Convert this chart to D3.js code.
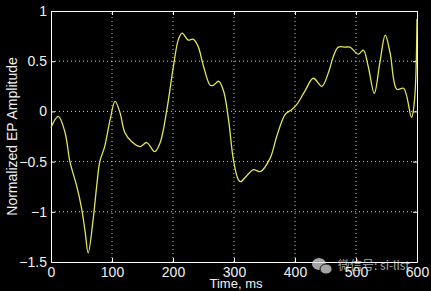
<!DOCTYPE html>
<html>
<head>
<meta charset="utf-8">
<script src="https://cdn.jsdelivr.net/npm/d3@7"></script>
<style>
body { margin: 0; background: #000; }
svg { display: block; }
</style>
</head>
<body>
<div id="chart"></div>
<script>
// EP waveform
var timeMs = [0, 12, 23, 31, 42, 50, 56, 61, 69, 75, 80, 88, 97, 105, 113, 121, 132, 146, 157, 170, 179, 190,
	200, 209, 215, 225, 233, 241, 250, 261, 266, 275, 283, 291, 299, 307, 311, 321, 332, 343, 359, 370,
	384, 395, 403, 416, 430, 444, 455, 463, 471, 482, 490, 504, 512, 520, 530, 539, 548, 556, 567, 578,
	591, 596, 600];
var amplitude = [-0.16, -0.05, -0.21, -0.5, -0.74, -0.96, -1.2, -1.41, -1.08, -0.74, -0.5, -0.35, -0.08, 0.10, -0.01, -0.21, -0.30, -0.35, -0.31, -0.40, -0.31, 0.02,
	0.42, 0.72, 0.78, 0.71, 0.72, 0.65, 0.45, 0.26, 0.26, 0.30, 0.20, -0.08, -0.48, -0.68, -0.70, -0.64, -0.58, -0.60, -0.47, -0.25,
	-0.03, 0.02, 0.07, 0.20, 0.33, 0.25, 0.39, 0.55, 0.64, 0.64, 0.64, 0.57, 0.61, 0.45, 0.18, 0.48, 0.76, 0.58, 0.22, 0.23,
	-0.06, 0.12, 0.92];
var xTicks = [0, 100, 200, 300, 400, 500, 600];
var yTicks = [-1.5, -1, -0.5, 0, 0.5, 1];

var width = 431, height = 291;
var margin = {left: 51, right: 14, top: 11, bottom: 29};
var font = '"Liberation Sans Narrow", "Liberation Sans", Arial, sans-serif';

var svg = d3.select('#chart').append('svg')
	.attr('width', width)
	.attr('height', height)
	.style('background', '#000');

var x = d3.scaleLinear().domain([0, 600]).range([margin.left, width - margin.right]);
var y = d3.scaleLinear().domain([-1.5, 1]).range([height - margin.bottom, margin.top]);

// dotted grid
svg.append('g').selectAll('line').data(xTicks.slice(1, -1)).enter().append('line')
	.attr('x1', function (d) { return x(d); })
	.attr('x2', function (d) { return x(d); })
	.attr('y1', y(-1.5)).attr('y2', y(1))
	.style('stroke', '#ccc').style('stroke-width', 1).style('stroke-dasharray', '1,3');
svg.append('g').selectAll('line').data(yTicks.slice(1, -1)).enter().append('line')
	.attr('y1', function (d) { return y(d); })
	.attr('y2', function (d) { return y(d); })
	.attr('x1', x(0)).attr('x2', x(600))
	.style('stroke', '#ccc').style('stroke-width', 1).style('stroke-dasharray', '1,3');

// axes, ticks pointing inward
var xAxis = svg.append('g')
	.attr('transform', 'translate(0,' + y(-1.5) + ')')
	.call(d3.axisBottom(x).tickValues(xTicks).tickSizeInner(-4).tickSizeOuter(0).tickPadding(7).tickFormat(d3.format('d')));
var yAxis = svg.append('g')
	.attr('transform', 'translate(' + x(0) + ',0)')
	.call(d3.axisLeft(y).tickValues(yTicks).tickSizeInner(-4).tickSizeOuter(0).tickPadding(4).tickFormat(function (d) { return String(d).replace('-', '\u2212'); }));
svg.append('g')
	.attr('transform', 'translate(0,' + y(1) + ')')
	.call(d3.axisTop(x).tickValues(xTicks).tickSizeInner(-4).tickSizeOuter(0).tickFormat(''));
svg.append('g')
	.attr('transform', 'translate(' + x(600) + ',0)')
	.call(d3.axisRight(y).tickValues(yTicks).tickSizeInner(-4).tickSizeOuter(0).tickFormat(''));

svg.selectAll('.domain, .tick line').style('stroke', '#fff').style('stroke-width', 1);
svg.selectAll('.tick text').style('fill', '#f0f0f0').style('font-family', font).style('font-size', '14px');
xAxis.selectAll('.tick text').attr('dy', '0.55em');

// the waveform
var line = d3.line()
	.x(function (d, i) { return x(timeMs[i]); })
	.y(function (d) { return y(d); })
	.curve(d3.curveCatmullRom.alpha(0.5));

svg.append('path')
	.datum(amplitude)
	.attr('d', line)
	.style('fill', 'none')
	.style('stroke', '#e4e45c')
	.style('stroke-width', 1.3);

// labels
svg.append('text')
	.attr('x', (x(0) + x(600)) / 2 + 2)
	.attr('y', 288)
	.attr('text-anchor', 'middle')
	.style('fill', '#f0f0f0').style('font-family', font).style('font-size', '13px')
	.text('Time, ms');
svg.append('text')
	.attr('transform', 'translate(17,' + (y(-0.25)) + ') rotate(-90)')
	.attr('text-anchor', 'middle')
	.style('fill', '#f0f0f0').style('font-family', font).style('font-size', '14px')
	.text('Normalized EP Amplitude');

// watermark
var wm = svg.append('g').style('opacity', 0.75);
wm.append('ellipse').attr('cx', 319).attr('cy', 264).attr('rx', 7).attr('ry', 6).style('fill', '#ddd');
wm.append('ellipse').attr('cx', 326).attr('cy', 269).attr('rx', 6).attr('ry', 5).style('fill', '#ddd').style('stroke', '#222').style('stroke-width', 1);
wm.append('text')
	.attr('x', 338).attr('y', 270)
	.style('fill', '#ddd').style('font-family', '"Noto Sans CJK SC", sans-serif').style('font-size', '12px')
	.text('微信号: si-list');
</script>
</body>
</html>
